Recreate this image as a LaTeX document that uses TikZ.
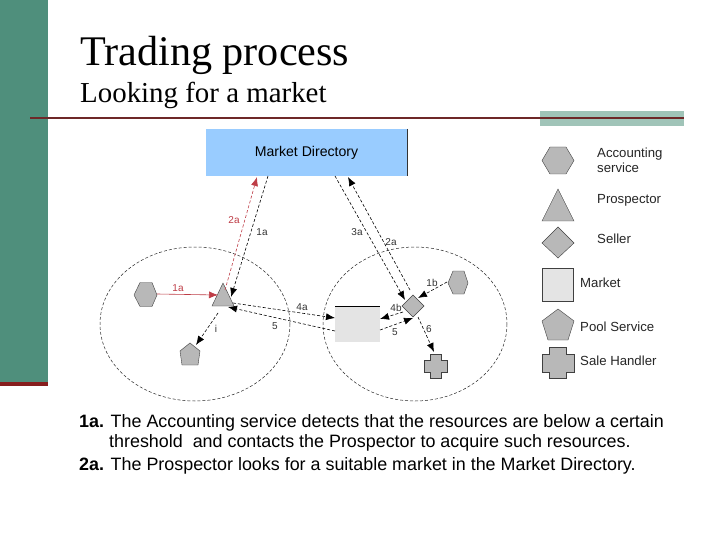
\documentclass[tikz,border=0pt]{standalone}
\usepackage{fontspec}
\setmainfont{Liberation Serif}
\setsansfont{Liberation Sans}
\usetikzlibrary{arrows.meta}
\definecolor{sidegreen}{RGB}{79,143,124}
\definecolor{paleteal}{RGB}{160,196,184}
\definecolor{rulered}{RGB}{110,40,40}
\definecolor{barred}{RGB}{135,30,30}
\definecolor{dirblue}{RGB}{153,204,255}
\definecolor{shapegray}{RGB}{184,184,184}
\definecolor{marketgray}{RGB}{228,228,228}
\definecolor{linkred}{RGB}{190,60,70}
\tikzset{
  actor/.style={fill=shapegray,draw=black!75,line width=0.4pt},
  lbl/.style={font=\sffamily\fontsize{13.2}{15}\selectfont,text=black!85,anchor=west,inner sep=0pt},
  tag/.style={font=\sffamily\fontsize{10}{11}\selectfont,text=black!80,inner sep=0pt},
  redtag/.style={tag,text=linkred},
  link/.style={densely dashed,line width=0.6pt,-{Latex[length=9pt,width=7pt]}},
  redlink/.style={link,draw=linkred},
  zone/.style={densely dashed,line width=0.5pt,draw=black!85},
  body/.style={font=\sffamily\fontsize{17.9}{21}\selectfont,anchor=base west,inner sep=0pt}
}
\begin{document}
\begin{tikzpicture}[x=1pt,y=-1pt]
\useasboundingbox (0,0) rectangle (720,540);
\fill[white] (0,0) rectangle (720,540);
\fill[sidegreen] (0,0) rectangle (48,382);
\fill[barred] (0,382) rectangle (48,386);
\fill[paleteal] (540,111) rectangle (684,126);
\draw[rulered,line width=1.2pt] (30,118) -- (684,118);
\node[anchor=base west,inner sep=0pt,font=\fontsize{42.2}{46}\selectfont] (title) at (80,65.5) {Trading process};
\node[anchor=base west,inner sep=0pt,font=\fontsize{28.9}{32}\selectfont] (subtitle) at (80,103) {Looking for a market};
% directory
\node[fill=dirblue,minimum width=201pt,minimum height=47pt,inner sep=0pt,font=\sffamily\fontsize{14.1}{16}\selectfont] (dir) at (306.5,152.5) {Market Directory};
\draw[line width=0.6pt,black!80] (407,129) -- (407,176);
% zones
\draw[zone] (195,324) ellipse (95 and 77);
\draw[zone] (415,324) ellipse (92 and 77);
% left zone nodes
\draw[actor] (134,295) -- (140,282.5) -- (152,282.5) -- (157,295) -- (152,306.5) -- (140,306.5) -- cycle;
\coordinate (acc1) at (157,294);
\draw[actor] (212,306) -- (223,283) -- (234,306) -- cycle;
\coordinate (prosp) at (223,295);
\draw[actor] (190,343) -- (200,351) -- (198,365) -- (182,365) -- (180,351) -- cycle;
\coordinate (pool) at (190,353);
% right zone nodes
\draw[actor] (413,295) -- (424,306) -- (413,317) -- (402,306) -- cycle;
\coordinate (sell) at (413,306);
\draw[actor] (453,271) -- (464,271) -- (468,283) -- (464,294) -- (453,294) -- (448,283) -- cycle;
\coordinate (acc2) at (458,283);
\node[fill=marketgray,minimum width=45pt,minimum height=36pt,inner sep=0pt] (mkt) at (357.5,324) {};
\draw[line width=0.6pt] (335,306) -- (380,306);
\draw[actor] (430,354) -- (441,354) -- (441,360) -- (447,360) -- (447,372) -- (441,372) -- (441,378) -- (430,378) -- (430,372) -- (424,372) -- (424,360) -- (430,360) -- cycle;
\coordinate (sale) at (435,366);
% connectors
\draw[redlink] (225,290) -- (257,177);
\draw[link] (268,176) -- (231,297);
\draw[link] (335,176) -- (405,300);
\draw[link] (410,290) -- (348,177);
\draw[redlink,solid] (acc1) -- (218,295);
\draw[link] (218,313) -- (196,345);
\draw[link] (233,303) -- (335,318);
\draw[link] (335,331) -- (228,307);
\draw[link] (403,312) -- (380,319);
\draw[link] (380,330) -- (413,318);
\draw[link] (447,282) -- (418,298);
\draw[link] (418,317) -- (434,352);
% tags
\node[redtag] (t2a) at (234,220) {2a};
\node[tag] (t3a) at (262,232) {1a};
\node[redtag] (t1a) at (178,288) {1a};
\node[tag] at (216,329) {i};
\node[tag] at (275,326) {5};
\node[tag] at (302,307) {4a};
\node[tag] at (357,232) {3a};
\node[tag] at (391,242) {2a};
\node[tag] at (432,283) {1b};
\node[tag] at (396,308) {4b};
\node[tag] at (395,332) {5};
\node[tag] at (429,329) {6};
% legend
\draw[actor] (542,160.5) -- (550,147) -- (566,147) -- (574,160.5) -- (566,174) -- (550,174) -- cycle;
\draw[actor] (542,221) -- (558,189) -- (574,221) -- cycle;
\draw[actor] (558,227) -- (574,243) -- (558,258) -- (542,243) -- cycle;
\node[fill=marketgray,draw=black!75,line width=0.4pt,minimum width=31pt,minimum height=33pt,inner sep=0pt] (lgm) at (557.5,284.5) {};
\draw[actor] (558,309) -- (574,321) -- (568,340) -- (548,340) -- (542,321) -- cycle;
\draw[actor] (549,347) -- (566,347) -- (566,354) -- (574,354) -- (574,372) -- (566,372) -- (566,378) -- (549,378) -- (549,372) -- (542,372) -- (542,354) -- (549,354) -- cycle;
\node[lbl,align=left] at (597,160.5) {Accounting\\service};
\node[lbl] at (597,200) {Prospector};
\node[lbl] at (597,239) {Seller};
\node[lbl] at (580,283) {Market};
\node[lbl] at (580,327) {Pool Service};
\node[lbl] at (580,361) {Sale Handler};
% body
\node[body] (b1) at (79,427) {\textbf{1a.} The Accounting service detects that the resources are below a certain};
\node[body] (b2) at (109,447) {threshold\ \ and contacts the Prospector to acquire such resources.};
\node[body] (b3) at (79,470) {\textbf{2a.} The Prospector looks for a suitable market in the Market Directory.};
\end{tikzpicture}
\end{document}
